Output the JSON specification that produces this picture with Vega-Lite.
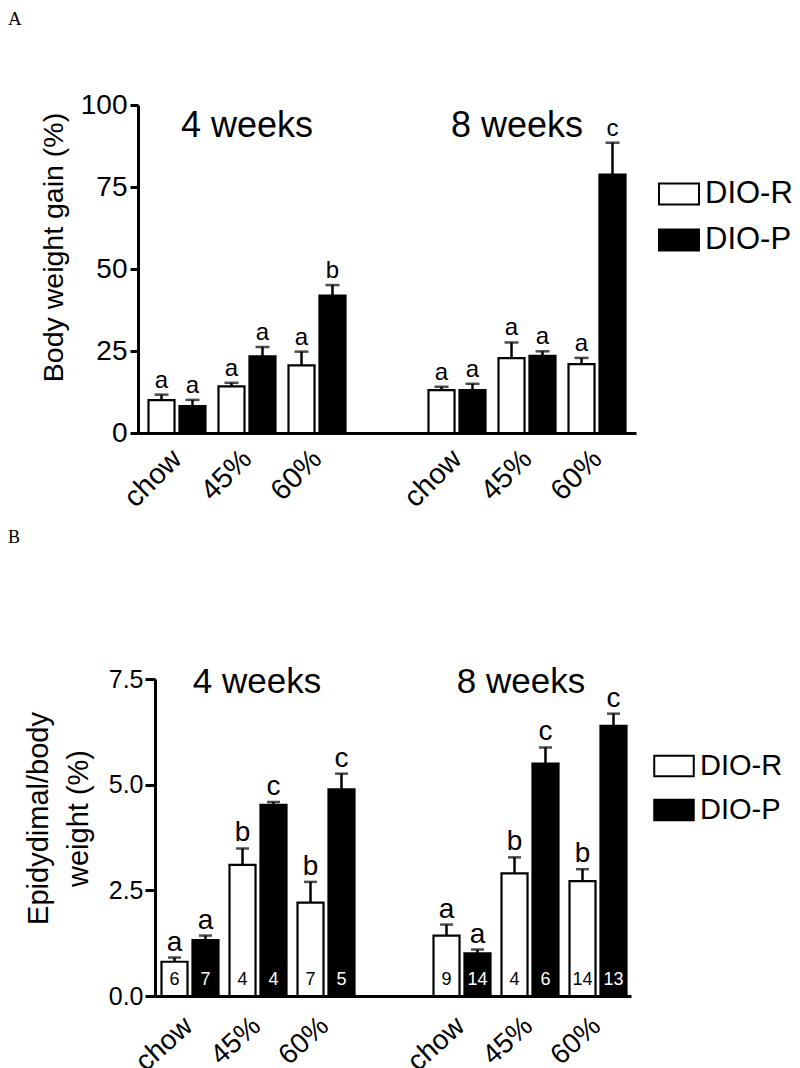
{
  "$schema": "https://vega.github.io/schema/vega-lite/v6.json",
  "padding": {"left": 8, "top": 10, "right": 0, "bottom": 0},
  "background": "white",
  "spacing": 16,
  "resolve": {"scale": {"fill": "independent"}, "legend": {"fill": "independent"}},
  "config": {
    "view": {"stroke": null},
    "font": "Liberation Sans",
    "axis": {"grid": false, "domainColor": "black", "tickColor": "black", "labelColor": "black", "titleColor": "black", "titleFontWeight": "normal", "labelFont": "Liberation Sans", "titleFont": "Liberation Sans", "domainWidth": 3, "tickWidth": 3},
    "legend": {"labelFont": "Liberation Sans", "labelColor": "black"},
    "title": {"font": "Liberation Serif", "fontWeight": "normal", "color": "black", "anchor": "start", "frame": "group"}
  },
  "vconcat": [
    {
      "width": 498,
      "height": 328,
      "title": {"text": "A", "dx": -130, "offset": 62, "fontSize": 19},
      "data": {"values": [
        {"slot": "chow|4", "group": "DIO-R", "value": 10.0, "upper": 11.7, "letter": "a"},
        {"slot": "chow|4", "group": "DIO-P", "value": 8.2, "upper": 10.1, "letter": "a"},
        {"slot": "45%|4", "group": "DIO-R", "value": 14.2, "upper": 15.3, "letter": "a"},
        {"slot": "45%|4", "group": "DIO-P", "value": 23.4, "upper": 26.2, "letter": "a"},
        {"slot": "60%|4", "group": "DIO-R", "value": 20.6, "upper": 24.8, "letter": "a"},
        {"slot": "60%|4", "group": "DIO-P", "value": 41.9, "upper": 45.1, "letter": "b"},
        {"slot": "chow|8", "group": "DIO-R", "value": 13.1, "upper": 14.1, "letter": "a"},
        {"slot": "chow|8", "group": "DIO-P", "value": 13.1, "upper": 15.0, "letter": "a"},
        {"slot": "45%|8", "group": "DIO-R", "value": 22.8, "upper": 27.6, "letter": "a"},
        {"slot": "45%|8", "group": "DIO-P", "value": 23.5, "upper": 24.9, "letter": "a"},
        {"slot": "60%|8", "group": "DIO-R", "value": 21.0, "upper": 22.9, "letter": "a"},
        {"slot": "60%|8", "group": "DIO-P", "value": 78.8, "upper": 88.5, "letter": "c"}
      ]},
      "encoding": {
        "x": {"field": "slot", "type": "nominal", "title": null,
          "scale": {"domain": ["chow|4", "45%|4", "60%|4", "gap", "chow|8", "45%|8", "60%|8"], "paddingInner": 0, "paddingOuter": 0.057},
          "axis": {"ticks": false, "labelAngle": -45, "labelAlign": "right", "labelBaseline": "middle", "labelFontSize": 29, "labelPadding": 21,
            "labelExpr": "datum.label == 'gap' ? '' : split(datum.label, '|')[0]"}},
        "xOffset": {"field": "group", "type": "nominal", "scale": {"domain": ["DIO-R", "DIO-P"], "paddingInner": 0.16, "paddingOuter": 0.21}}
      },
      "layer": [
        {
          "mark": {"type": "bar", "stroke": "black", "strokeWidth": 2.2},
          "encoding": {
            "y": {"field": "value", "type": "quantitative", "title": "Body weight gain (%)",
              "scale": {"domain": [0, 100], "nice": false},
              "axis": {"values": [0, 25, 50, 75, 100], "labelFontSize": 28, "tickSize": 8, "labelPadding": 3, "titleFontSize": 28.5, "titlePadding": 12, "titleY": 142}},
            "fill": {"field": "group", "type": "nominal", "scale": {"domain": ["DIO-R", "DIO-P"], "range": ["white", "black"]},
              "legend": {"orient": "none", "legendX": 520, "legendY": 68, "title": null, "padding": 0, "labelFontSize": 31, "symbolType": "M-1,-0.525H1V0.525H-1Z", "symbolSize": 1600, "symbolStrokeColor": "black", "symbolStrokeWidth": 2, "labelOffset": 5, "rowPadding": 10}}
          }
        },
        {
          "mark": {"type": "rule", "color": "black", "strokeWidth": 2.5},
          "encoding": {
            "y": {"field": "value", "type": "quantitative", "title": "Body weight gain (%)"},
            "y2": {"field": "upper"}
          }
        },
        {
          "mark": {"type": "tick", "color": "black", "size": 14, "thickness": 2.5},
          "encoding": {"y": {"field": "upper", "type": "quantitative", "title": "Body weight gain (%)"}}
        },
        {
          "mark": {"type": "text", "color": "black", "fontSize": 24, "baseline": "alphabetic", "dy": -7},
          "encoding": {
            "y": {"field": "upper", "type": "quantitative", "title": "Body weight gain (%)"},
            "text": {"field": "letter"}
          }
        },
        {
          "data": {"values": [{"slot": "45%|4", "period": "4 weeks"}]},
          "mark": {"type": "text", "color": "black", "fontSize": 36, "baseline": "middle"},
          "encoding": {
            "x": {"field": "slot", "type": "nominal"},
            "xOffset": null,
            "y": {"datum": 93.6, "type": "quantitative", "title": "Body weight gain (%)"},
            "text": {"field": "period"}
          }
        },
        {
          "data": {"values": [{"slot": "45%|8", "period": "8 weeks"}]},
          "mark": {"type": "text", "color": "black", "fontSize": 36, "baseline": "middle", "dx": -10},
          "encoding": {
            "x": {"field": "slot", "type": "nominal"},
            "xOffset": null,
            "y": {"datum": 93.6, "type": "quantitative", "title": "Body weight gain (%)"},
            "text": {"field": "period"}
          }
        }
      ]
    },
    {
      "width": 493,
      "height": 317,
      "title": {"text": "B", "dx": -130, "offset": 118, "fontSize": 18},
      "data": {"values": [
        {"slot": "chow|4", "group": "DIO-R", "value": 0.81, "upper": 0.91, "letter": "a", "n": "6"},
        {"slot": "chow|4", "group": "DIO-P", "value": 1.32, "upper": 1.43, "letter": "a", "n": "7"},
        {"slot": "45%|4", "group": "DIO-R", "value": 3.10, "upper": 3.49, "letter": "b", "n": "4"},
        {"slot": "45%|4", "group": "DIO-P", "value": 4.52, "upper": 4.59, "letter": "c", "n": "4"},
        {"slot": "60%|4", "group": "DIO-R", "value": 2.21, "upper": 2.70, "letter": "b", "n": "7"},
        {"slot": "60%|4", "group": "DIO-P", "value": 4.89, "upper": 5.26, "letter": "c", "n": "5"},
        {"slot": "chow|8", "group": "DIO-R", "value": 1.43, "upper": 1.69, "letter": "a", "n": "9"},
        {"slot": "chow|8", "group": "DIO-P", "value": 1.01, "upper": 1.10, "letter": "a", "n": "14"},
        {"slot": "45%|8", "group": "DIO-R", "value": 2.90, "upper": 3.28, "letter": "b", "n": "4"},
        {"slot": "45%|8", "group": "DIO-P", "value": 5.50, "upper": 5.88, "letter": "c", "n": "6"},
        {"slot": "60%|8", "group": "DIO-R", "value": 2.72, "upper": 3.00, "letter": "b", "n": "14"},
        {"slot": "60%|8", "group": "DIO-P", "value": 6.39, "upper": 6.68, "letter": "c", "n": "13"}
      ]},
      "encoding": {
        "x": {"field": "slot", "type": "nominal", "title": null,
          "scale": {"domain": ["chow|4", "45%|4", "60%|4", "gap", "chow|8", "45%|8", "60%|8"], "range": [17, 493], "paddingInner": 0, "paddingOuter": 0},
          "axis": {"ticks": false, "labelAngle": -42, "labelAlign": "right", "labelBaseline": "middle", "labelFontSize": 28, "labelPadding": 26,
            "labelExpr": "datum.label == 'gap' ? '' : split(datum.label, '|')[0]"}},
        "xOffset": {"field": "group", "type": "nominal", "scale": {"domain": ["DIO-R", "DIO-P"], "paddingInner": 0.25, "paddingOuter": 0.2}}
      },
      "layer": [
        {
          "mark": {"type": "bar", "stroke": "black", "strokeWidth": 2.2},
          "encoding": {
            "y": {"field": "value", "type": "quantitative", "title": ["Epidydimal/body", "weight  (%)"],
              "scale": {"domain": [0, 7.5], "nice": false},
              "axis": {"offset": -17, "values": [0, 2.5, 5, 7.5], "format": ".1f", "labelFontSize": 25, "tickSize": 10, "labelPadding": 2, "titleFontSize": 29, "titleLineHeight": 40, "titlePadding": 15, "titleY": 139}},
            "fill": {"field": "group", "type": "nominal", "scale": {"domain": ["DIO-R", "DIO-P"], "range": ["white", "black"]},
              "legend": {"orient": "none", "legendX": 515, "legendY": 66, "title": null, "padding": 0, "labelFontSize": 29, "symbolType": "M-1,-0.525H1V0.525H-1Z", "symbolSize": 1560, "symbolStrokeColor": "black", "symbolStrokeWidth": 2, "labelOffset": 5, "rowPadding": 8}}
          }
        },
        {
          "mark": {"type": "rule", "color": "black", "strokeWidth": 2.5},
          "encoding": {
            "y": {"field": "value", "type": "quantitative", "title": ["Epidydimal/body", "weight  (%)"]},
            "y2": {"field": "upper"}
          }
        },
        {
          "mark": {"type": "tick", "color": "black", "size": 13, "thickness": 2.5},
          "encoding": {"y": {"field": "upper", "type": "quantitative", "title": ["Epidydimal/body", "weight  (%)"]}}
        },
        {
          "mark": {"type": "text", "color": "black", "fontSize": 28, "baseline": "alphabetic", "dy": -7},
          "encoding": {
            "y": {"field": "upper", "type": "quantitative", "title": ["Epidydimal/body", "weight  (%)"]},
            "text": {"field": "letter"}
          }
        },
        {
          "mark": {"type": "text", "fontSize": 18, "baseline": "alphabetic", "dy": -11},
          "encoding": {
            "y": {"datum": 0, "type": "quantitative", "title": ["Epidydimal/body", "weight  (%)"]},
            "text": {"field": "n"},
            "color": {"condition": {"test": "datum.group === 'DIO-P'", "value": "white"}, "value": "black"}
          }
        },
        {
          "data": {"values": [{"slot": "45%|4", "period": "4 weeks"}]},
          "mark": {"type": "text", "color": "black", "fontSize": 35, "baseline": "middle"},
          "encoding": {
            "x": {"field": "slot", "type": "nominal"},
            "xOffset": null,
            "y": {"datum": 7.42, "type": "quantitative", "title": ["Epidydimal/body", "weight  (%)"]},
            "text": {"field": "period"}
          }
        },
        {
          "data": {"values": [{"slot": "45%|8", "period": "8 weeks"}]},
          "mark": {"type": "text", "color": "black", "fontSize": 35, "baseline": "middle", "dx": -8},
          "encoding": {
            "x": {"field": "slot", "type": "nominal"},
            "xOffset": null,
            "y": {"datum": 7.42, "type": "quantitative", "title": ["Epidydimal/body", "weight  (%)"]},
            "text": {"field": "period"}
          }
        }
      ]
    }
  ]
}
